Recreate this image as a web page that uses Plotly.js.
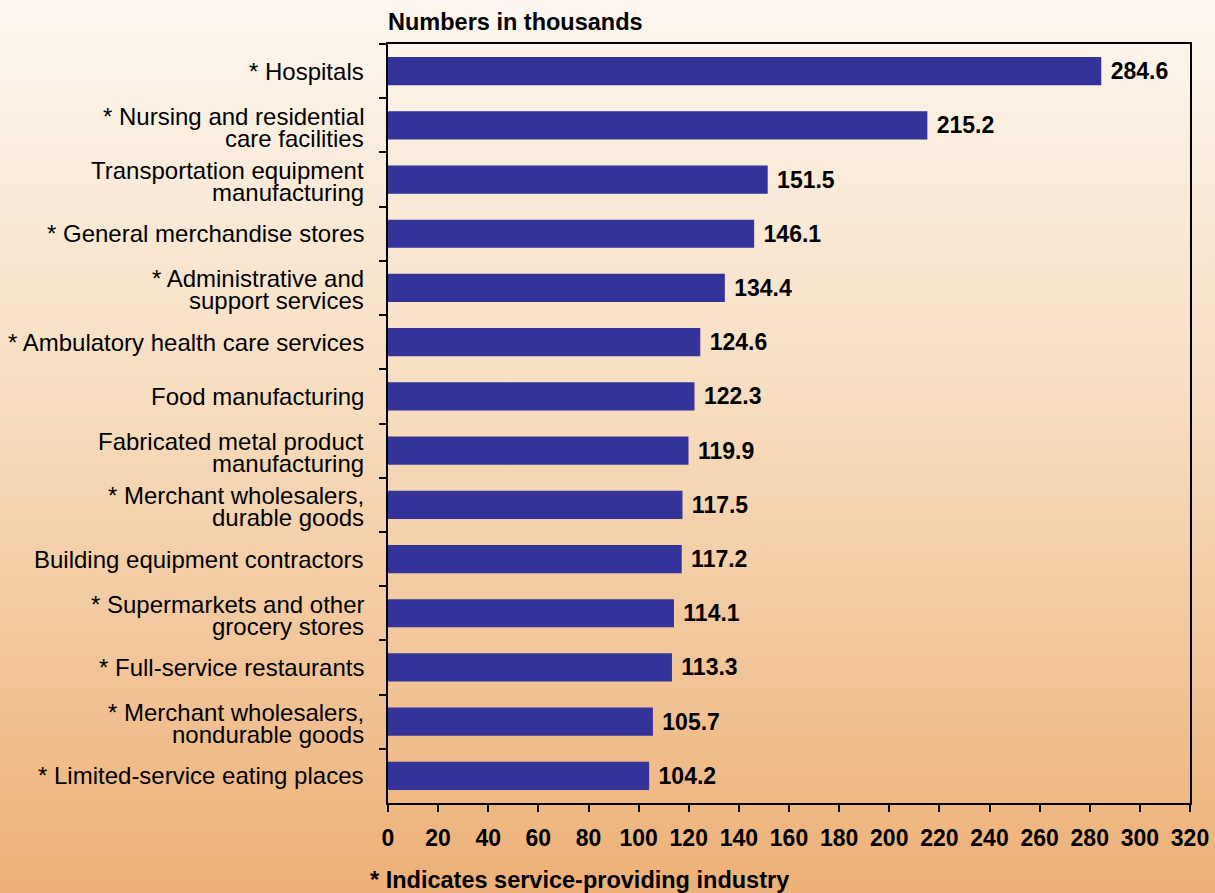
<!DOCTYPE html>
<html>
<head>
<meta charset="utf-8">
<script src="https://cdn.plot.ly/plotly-3.0.1.min.js"></script>
<style>
  html, body { margin: 0; padding: 0; }
  body { width: 1215px; height: 893px; background: linear-gradient(to bottom, #FDF7F0 0%, #F7DDBF 45%, #EDB077 100%); }
  #chart { width: 1215px; height: 893px; }
</style>
</head>
<body>
<div id="chart"></div>
<script>
const categories = [
  "* Hospitals",
  "* Nursing and residential|care facilities",
  "Transportation equipment|manufacturing",
  "* General merchandise stores",
  "* Administrative and|support services",
  "* Ambulatory health care services",
  "Food manufacturing",
  "Fabricated metal product|manufacturing",
  "* Merchant wholesalers,|durable goods",
  "Building equipment contractors",
  "* Supermarkets and other|grocery stores",
  "* Full-service restaurants",
  "* Merchant wholesalers,|nondurable goods",
  "* Limited-service eating places"
];
const values = [284.6, 215.2, 151.5, 146.1, 134.4, 124.6, 122.3, 119.9, 117.5, 117.2, 114.1, 113.3, 105.7, 104.2];
const xTicks = [0, 20, 40, 60, 80, 100, 120, 140, 160, 180, 200, 220, 240, 260, 280, 300, 320];

const FONT = "Liberation Sans, Arial, Helvetica, sans-serif";

const trace = {
  type: "bar",
  orientation: "h",
  y: categories,
  x: values,
  text: values.map(v => v.toFixed(1)),
  textposition: "outside",
  cliponaxis: false,
  textfont: { family: FONT, size: 23, color: "#000" },
  texttemplate: "\u00A0<b>%{text}</b>",
  marker: { color: "#333399", line: { width: 0 } },
  hoverinfo: "x+y"
};

// category labels, drawn line by line at each category position
const labelAnnotations = [];
categories.forEach(cat => {
  const lines = cat.split("|");
  const n = lines.length;
  lines.forEach((line, i) => {
    labelAnnotations.push({
      text: line,
      xref: "paper", yref: "y",
      x: 0, y: cat,
      xanchor: "right", yanchor: "middle",
      xshift: -22,
      yshift: n === 1 ? 0 : (i === 0 ? 9 : -13),
      showarrow: false,
      font: { family: FONT, size: 24, color: "#000" }
    });
  });
});

const layout = {
  width: 1215,
  height: 893,
  paper_bgcolor: "rgba(0,0,0,0)",
  plot_bgcolor: "rgba(0,0,0,0)",
  margin: { l: 388, r: 25, t: 44, b: 90 },
  bargap: 0.48,
  showlegend: false,
  font: { family: FONT, color: "#000" },
  xaxis: {
    range: [0, 320],
    tickvals: xTicks,
    ticktext: xTicks.map(t => "<b>" + t + "</b>"),
    ticks: "outside",
    ticklen: 7,
    tickwidth: 2,
    tickcolor: "#000",
    ticklabelstandoff: 6,
    showline: true,
    linecolor: "#000",
    linewidth: 2,
    mirror: true,
    showgrid: false,
    zeroline: false,
    tickfont: { size: 23, color: "#000" },
    fixedrange: true
  },
  yaxis: {
    type: "category",
    autorange: "reversed",
    tickson: "boundaries",
    ticks: "outside",
    ticklen: 7,
    tickwidth: 2,
    tickcolor: "#000",
    showticklabels: false,
    showline: true,
    linecolor: "#000",
    linewidth: 2,
    mirror: true,
    showgrid: false,
    zeroline: false,
    fixedrange: true
  },
  annotations: labelAnnotations.concat([
    {
      text: "<b>Numbers in thousands</b>",
      xref: "paper", yref: "paper",
      x: 0, y: 1, xanchor: "left", yanchor: "bottom",
      xshift: -2, yshift: 7,
      showarrow: false,
      font: { size: 23.5, color: "#000" }
    },
    {
      text: "<b>* Indicates service-providing industry</b>",
      xref: "paper", yref: "paper",
      x: 0, y: 0, xanchor: "left", yanchor: "top",
      xshift: -20, yshift: -62,
      showarrow: false,
      font: { size: 23.5, color: "#000" }
    }
  ])
};

Plotly.newPlot("chart", [trace], layout, { displayModeBar: false, staticPlot: true });
</script>
</body>
</html>
